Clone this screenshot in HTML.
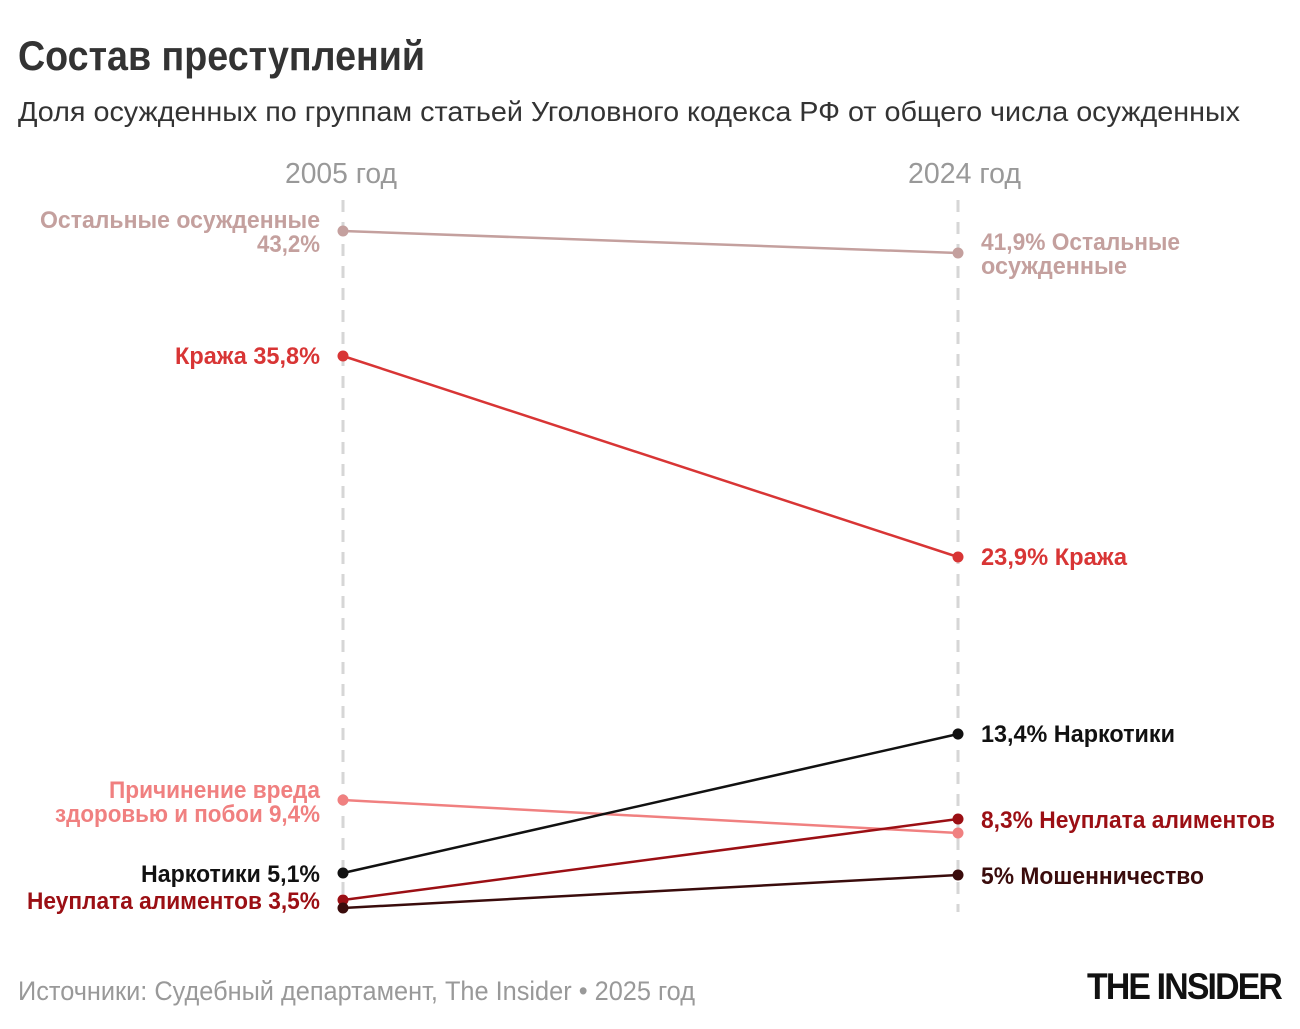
<!DOCTYPE html>
<html><head><meta charset="utf-8"><style>
html,body{margin:0;padding:0;background:#fff;}
svg text{font-family:"Liberation Sans Narrow","Liberation Sans","DejaVu Sans Condensed",sans-serif;}
.b{font-weight:bold;font-size:24px;}
</style></head><body>
<svg width="1300" height="1024" viewBox="0 0 1300 1024" xmlns="http://www.w3.org/2000/svg">
<rect width="1300" height="1024" fill="#fff"/>
<text x="18" y="70" font-size="42" font-weight="bold" fill="#333" textLength="407" lengthAdjust="spacingAndGlyphs">Состав преступлений</text>
<text x="18" y="121" font-size="28" fill="#333" textLength="1222" lengthAdjust="spacingAndGlyphs">Доля осужденных по группам статьей Уголовного кодекса РФ от общего числа осужденных</text>
<text x="285" y="183" font-size="29" fill="#999" textLength="112" lengthAdjust="spacingAndGlyphs">2005 год</text>
<text x="908" y="183" font-size="29" fill="#999" textLength="113" lengthAdjust="spacingAndGlyphs">2024 год</text>
<line x1="343" y1="200" x2="343" y2="912" stroke="#d6d6d6" stroke-width="3" stroke-dasharray="12,10"/>
<line x1="958" y1="200" x2="958" y2="912" stroke="#d6d6d6" stroke-width="3" stroke-dasharray="12,10"/>
<g stroke-width="2.5">
<line x1="343" y1="231" x2="958" y2="253" stroke="#c4a09e"/>
<line x1="343" y1="356" x2="958" y2="557" stroke="#d83535"/>
<line x1="343" y1="800" x2="958" y2="833" stroke="#f08080"/>
<line x1="343" y1="873" x2="958" y2="734" stroke="#111"/>
<line x1="343" y1="900" x2="958" y2="819" stroke="#9b0f14"/>
<line x1="343" y1="908" x2="958" y2="875" stroke="#3a0c0c"/>
</g>
<g>
<circle cx="343" cy="231" r="5.5" fill="#c4a09e"/><circle cx="958" cy="253" r="5.5" fill="#c4a09e"/>
<circle cx="343" cy="356" r="5.5" fill="#d83535"/><circle cx="958" cy="557" r="5.5" fill="#d83535"/>
<circle cx="343" cy="800" r="5.5" fill="#f08080"/><circle cx="958" cy="833" r="5.5" fill="#f08080"/>
<circle cx="343" cy="873" r="5.5" fill="#111"/><circle cx="958" cy="734" r="5.5" fill="#111"/>
<circle cx="343" cy="900" r="5.5" fill="#9b0f14"/><circle cx="958" cy="819" r="5.5" fill="#9b0f14"/>
<circle cx="343" cy="908" r="5.5" fill="#3a0c0c"/><circle cx="958" cy="875" r="5.5" fill="#3a0c0c"/>
</g>
<g class="b">
<text x="40" y="228" fill="#c4a09e" textLength="280" lengthAdjust="spacingAndGlyphs">Остальные осужденные</text>
<text x="257" y="252" fill="#c4a09e" textLength="63" lengthAdjust="spacingAndGlyphs">43,2%</text>
<text x="175" y="364" fill="#d83535" textLength="145" lengthAdjust="spacingAndGlyphs">Кража 35,8%</text>
<text x="109" y="798" fill="#f08080" textLength="211" lengthAdjust="spacingAndGlyphs">Причинение вреда</text>
<text x="55" y="822" fill="#f08080" textLength="265" lengthAdjust="spacingAndGlyphs">здоровью и побои 9,4%</text>
<text x="141" y="882" fill="#111" textLength="179" lengthAdjust="spacingAndGlyphs">Наркотики 5,1%</text>
<text x="27" y="909" fill="#9b0f14" textLength="293" lengthAdjust="spacingAndGlyphs">Неуплата алиментов 3,5%</text>
<text x="981" y="250" fill="#c4a09e" textLength="199" lengthAdjust="spacingAndGlyphs">41,9% Остальные</text>
<text x="981" y="274" fill="#c4a09e" textLength="146" lengthAdjust="spacingAndGlyphs">осужденные</text>
<text x="981" y="565" fill="#d83535" textLength="146" lengthAdjust="spacingAndGlyphs">23,9% Кража</text>
<text x="981" y="742" fill="#111" textLength="194" lengthAdjust="spacingAndGlyphs">13,4% Наркотики</text>
<text x="981" y="828" fill="#9b0f14" textLength="294" lengthAdjust="spacingAndGlyphs">8,3% Неуплата алиментов</text>
<text x="981" y="884" fill="#3a0c0c" textLength="223" lengthAdjust="spacingAndGlyphs">5% Мошенничество</text>
</g>
<text x="18" y="1000" font-size="27" fill="#999" textLength="677" lengthAdjust="spacingAndGlyphs">Источники: Судебный департамент, The Insider • 2025 год</text>
<text x="1087" y="999" font-size="37" font-weight="bold" fill="#111" textLength="194" lengthAdjust="spacingAndGlyphs" letter-spacing="-2">THE INSIDER</text>
</svg>
</body></html>
